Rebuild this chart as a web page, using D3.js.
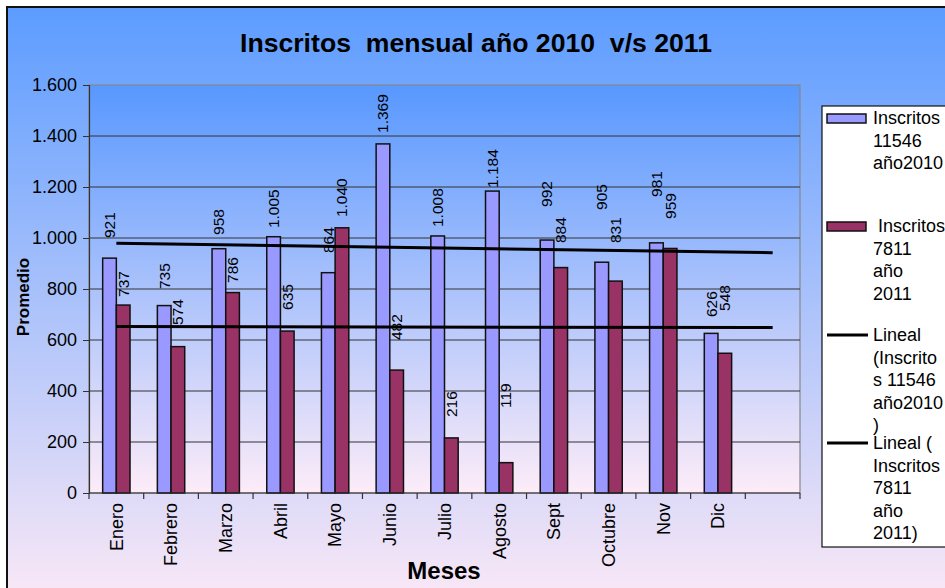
<!DOCTYPE html>
<html>
<head>
<meta charset="utf-8">
<script src="https://cdn.jsdelivr.net/npm/d3@7"></script>
<style>
  body { margin: 0; background: #fff; }
  svg { display: block; font-family: "Liberation Sans", Arial, sans-serif; }
  text { white-space: pre; }
</style>
</head>
<body>
<svg width="945" height="588"></svg>
<script>
// datos
const meses = ["Enero", "Febrero", "Marzo", "Abril", "Mayo", "Junio", "Julio", "Agosto", "Sept", "Octubre", "Nov", "Dic", ""]
const inscritos2010 = [921, 735, 958, 1005, 864, 1369, 1008, 1184, 992, 905, 981, 626]
const inscritos2011 = [737, 574, 786, 635, 1040, 482, 216, 119, 884, 831, 959, 548]
// donde termina cada etiqueta (en unidades del eje y), como en el original
const etiqueta2010 = [1000, 800, 1012, 1039, 941, 1412, 1043, 1196, 1122, 1110, 1161, 690]
const etiqueta2011 = [769, 659, 824, 718, 1082, 600, 298, 333, 980, 980, 1075, 714]
const yTicks = [0, 200, 400, 600, 800, 1000, 1200, 1400, 1600]
const leyenda = [
  {tipo: "barra", color: "#9999ff", lineas: ["Inscritos", "11546", "año2010"], dy: 118},
  {tipo: "barra", color: "#993366", lineas: [" Inscritos", "7811", "año", "2011"], dy: 226},
  {tipo: "linea", lineas: ["Lineal", "(Inscrito", "s 11546", "año2010", ")"], dy: 335},
  {tipo: "linea", lineas: ["Lineal (", "Inscritos", "7811", "año", "2011)"], dy: 443}
]

const svg = d3.select("svg")
const defs = svg.append("defs")

function gradiente(id, c1, c2) {
  const g = defs.append("linearGradient").attr("id", id)
    .attr("x1", 0).attr("y1", 0).attr("x2", 0).attr("y2", 1)
  g.append("stop").attr("offset", "0%").attr("stop-color", c1)
  g.append("stop").attr("offset", "100%").attr("stop-color", c2)
}
gradiente("fondo", "#5c9cff", "#fce9f6")
gradiente("area", "#5898ff", "#fdecf8")

// marco exterior
svg.append("rect")
  .attr("x", 7).attr("y", 7).attr("width", 960).attr("height", 600)
  .attr("fill", "url(#fondo)").attr("stroke", "#111").attr("stroke-width", 2)

const izq = 89, der = 800, arriba = 85, abajo = 493

const x = d3.scaleBand().domain(d3.range(meses.length)).range([izq, der])
const y = d3.scaleLinear().domain([0, 1600]).range([abajo, arriba])
const bw = x.bandwidth() / 4

// area del grafico
svg.append("rect")
  .attr("x", izq).attr("y", arriba).attr("width", der - izq).attr("height", abajo - arriba)
  .attr("fill", "url(#area)").attr("stroke", "#888").attr("stroke-width", 1.2)

// lineas de division
svg.append("g").selectAll("line").data(yTicks.slice(1, -1)).join("line")
  .attr("x1", izq).attr("x2", der)
  .attr("y1", d => y(d)).attr("y2", d => y(d))
  .attr("stroke", "#333").attr("stroke-width", 1)

// barras
const barras = svg.append("g").attr("stroke", "#111").attr("stroke-width", 1.5)
barras.selectAll(".b10").data(inscritos2010).join("rect")
  .attr("x", (d, i) => x(i) + x.bandwidth() / 2 - bw)
  .attr("y", d => y(d)).attr("width", bw).attr("height", d => abajo - y(d))
  .attr("fill", "#9999ff")
barras.selectAll(".b11").data(inscritos2011).join("rect")
  .attr("x", (d, i) => x(i) + x.bandwidth() / 2)
  .attr("y", d => y(d)).attr("width", bw).attr("height", d => abajo - y(d))
  .attr("fill", "#993366")

// lineas de tendencia (regresion lineal)
function tendencia(vals) {
  const n = vals.length
  const mx = d3.mean(vals, (d, i) => i), my = d3.mean(vals)
  const sxy = d3.sum(vals, (d, i) => (i - mx) * (d - my))
  const sxx = d3.sum(vals, (d, i) => (i - mx) * (i - mx))
  const m = sxy / sxx
  return [0, n].map(i => ({i: i, v: my + m * (i - mx)}))
}
const linea = d3.line()
  .x(d => x(d.i) + x.bandwidth() / 2)
  .y(d => y(d.v))
;[inscritos2010, inscritos2011].forEach(serie => {
  svg.append("path").attr("d", linea(tendencia(serie)))
    .attr("fill", "none").attr("stroke", "#000").attr("stroke-width", 3)
})

// etiquetas de datos
const fmt = d3.formatLocale({decimal: ",", thousands: ".", grouping: [3], currency: ["", ""]}).format(",d")
function etiquetas(vals, pos, dx) {
  svg.append("g").selectAll("text").data(vals).join("text")
    .attr("transform", (d, i) => `translate(${x(i) + x.bandwidth() / 2 + dx},${y(pos[i])}) rotate(-90)`)
    .attr("dy", "0.35em")
    .attr("font-size", 15.5).attr("fill", "#000")
    .text(d => fmt(d))
}
etiquetas(inscritos2010, etiqueta2010, -bw / 2)
etiquetas(inscritos2011, etiqueta2011, bw / 2)

// eje y
const ejeY = svg.append("g").attr("transform", `translate(${izq},0)`)
  .call(d3.axisLeft(y).tickValues(yTicks).tickFormat(fmt).tickSize(6).tickPadding(6))
ejeY.select(".domain").attr("stroke", "#333").attr("stroke-width", 1.2)
ejeY.selectAll(".tick line").attr("stroke", "#333")
ejeY.selectAll("text").attr("font-size", 18).attr("font-family", "Liberation Sans, Arial, sans-serif").attr("fill", "#000")

// eje x
const ejeX = svg.append("g").attr("transform", `translate(0,${abajo})`)
ejeX.append("line").attr("x1", izq).attr("x2", der).attr("stroke", "#333").attr("stroke-width", 1.2)
ejeX.selectAll(".t").data(d3.range(meses.length + 1)).join("line")
  .attr("x1", i => izq + i * x.step()).attr("x2", i => izq + i * x.step())
  .attr("y1", 0).attr("y2", 6).attr("stroke", "#333").attr("stroke-width", 1.2)
ejeX.selectAll("text").data(meses).join("text")
  .attr("transform", (d, i) => `translate(${x(i) + x.bandwidth() / 2},10) rotate(-90)`)
  .attr("text-anchor", "end").attr("dy", "0.35em")
  .attr("font-size", 18).attr("fill", "#000")
  .text(d => d)

// titulos
svg.append("text").attr("x", 476).attr("y", 52).attr("text-anchor", "middle")
  .attr("font-size", 25).attr("font-weight", "bold")
  .attr("textLength", 472).attr("lengthAdjust", "spacingAndGlyphs")
  .text("Inscritos  mensual año 2010  v/s 2011")
svg.append("text").attr("x", 444).attr("y", 579).attr("text-anchor", "middle")
  .attr("font-size", 24).attr("font-weight", "bold").text("Meses")
svg.append("text").attr("transform", "translate(29,297) rotate(-90)").attr("text-anchor", "middle")
  .attr("font-size", 17).attr("font-weight", "bold").text("Promedio")

// leyenda
svg.append("rect").attr("x", 822).attr("y", 106).attr("width", 140).attr("height", 441)
  .attr("fill", "#fff").attr("stroke", "#111").attr("stroke-width", 1.2)
leyenda.forEach(e => {
  if (e.tipo === "barra") {
    svg.append("rect").attr("x", 827).attr("y", e.dy - 4).attr("width", 39).attr("height", 9)
      .attr("fill", e.color).attr("stroke", "#111").attr("stroke-width", 1.5)
  } else {
    svg.append("line").attr("x1", 827).attr("x2", 868).attr("y1", e.dy).attr("y2", e.dy)
      .attr("stroke", "#000").attr("stroke-width", 3)
  }
  const t = svg.append("text").attr("font-size", 18).attr("fill", "#000")
  e.lineas.forEach((l, k) => {
    t.append("tspan").attr("x", 873).attr("y", e.dy + k * 22.4).attr("dy", "0.35em").text(l)
  })
})
</script>
</body>
</html>
